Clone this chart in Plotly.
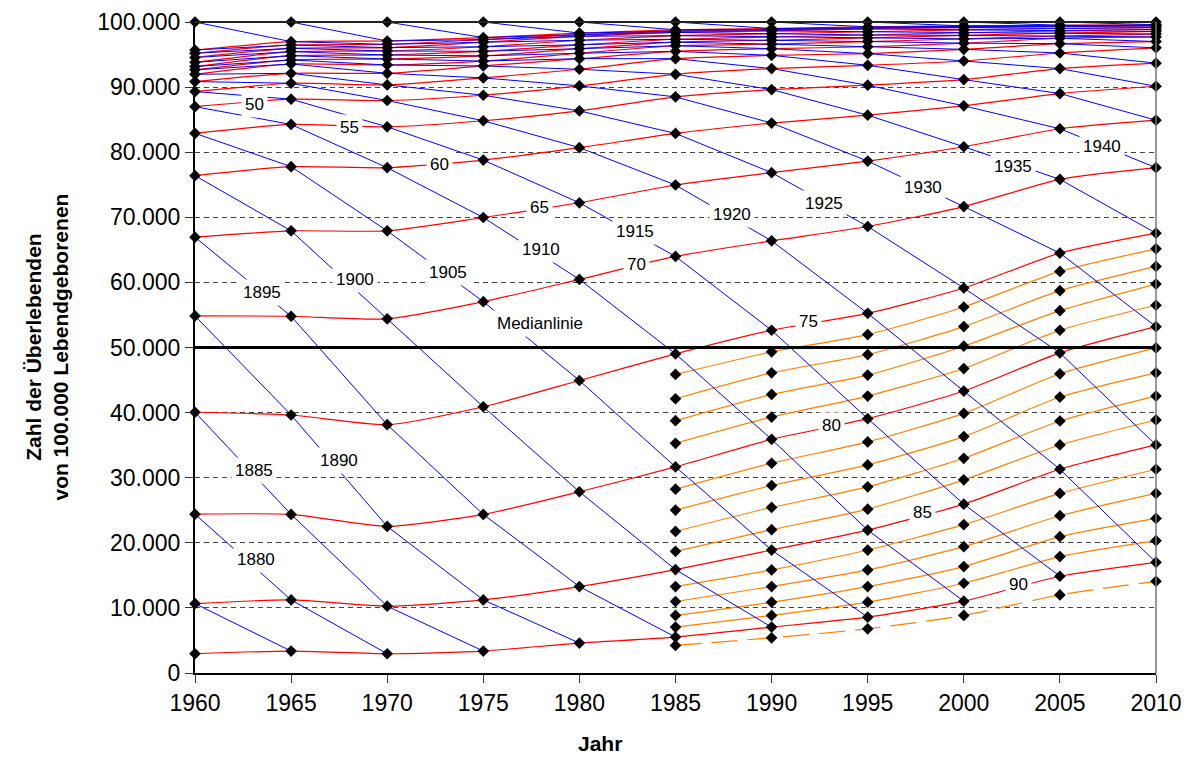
import plotly.graph_objects as go

# ---------------- data ----------------
years = [1960, 1965, 1970, 1975, 1980, 1985, 1990, 1995, 2000, 2005, 2010]

# survivors at exact age (5-year steps), per year
age_00 = [100000, 100000, 100000, 100000, 100000, 100000, 100000, 100000, 100000, 100000, 100000]
age_05 = [95700, 96980, 97080, 97600, 98300, 98800, 99000, 99250, 99400, 99500, 99580]
age_10 = [95200, 96470, 96570, 97300, 98050, 98600, 98850, 99100, 99300, 99420, 99500]
age_15 = [94550, 95960, 96060, 96900, 97800, 98400, 98650, 98950, 99150, 99300, 99400]
age_20 = [93800, 95450, 95550, 96200, 97200, 97900, 98200, 98500, 98800, 99000, 99150]
age_25 = [93150, 94830, 94930, 95500, 96500, 97350, 97700, 98000, 98350, 98650, 98850]
age_30 = [92650, 94170, 94320, 94800, 95900, 96900, 97200, 97550, 97950, 98300, 98550]
age_35 = [91970, 93550, 93400, 94000, 95200, 96350, 96600, 97000, 97400, 97850, 98150]
age_40 = [90850, 92120, 92120, 93250, 94370, 95490, 95900, 96200, 96750, 97500, 97700]
age_45 = [89320, 90590, 90340, 91410, 92740, 94370, 94880, 95140, 95800, 96670, 97000]
age_50 = [87000, 88140, 87940, 88750, 90190, 91970, 92840, 93350, 94010, 95240, 96030]
age_55 = [82900, 84260, 83900, 84830, 86350, 88500, 89620, 90290, 91150, 92840, 93680]
age_60 = [76400, 77780, 77620, 78790, 80700, 82880, 84480, 85690, 87120, 89010, 90130]
age_65 = [66950, 67920, 67920, 69970, 72230, 74960, 76860, 78640, 80840, 83600, 84920]
age_70 = [54850, 54800, 54400, 57040, 60460, 63990, 66380, 68590, 71650, 75830, 77620]
age_75 = [40050, 39630, 38150, 40900, 44930, 49020, 52650, 55250, 59140, 64500, 67560]
age_80 = [24400, 24360, 22520, 24360, 27840, 31660, 35890, 39070, 43310, 49180, 53200]
age_85 = [10650, 11230, 10260, 11230, 13280, 15880, 18890, 21950, 25940, 31300, 35030]
age_90 = [2960, 3370, 2960, 3370, 4600, 5520, 7050, 8580, 11030, 14860, 17000]

# single-year ages, available from 1985 on
single_years = [1985, 1990, 1995, 2000, 2005, 2010]
age_76 = [45860, 49330, 51980, 56220, 61690, 65160]
age_77 = [42130, 46110, 48920, 53210, 58730, 62460]
age_78 = [38760, 42790, 45760, 50200, 55660, 59750]
age_79 = [35280, 39320, 42540, 46770, 52650, 56490]
age_81 = [28240, 32220, 35500, 39880, 45960, 49940]
age_82 = [25020, 28800, 31970, 36310, 42390, 46110]
age_83 = [21750, 25430, 28600, 32980, 38710, 42540]
age_84 = [18690, 22010, 25170, 29670, 35030, 38870]
age_86 = [13280, 15830, 18890, 22780, 27580, 31300]
age_87 = [10980, 13280, 15830, 19410, 24160, 27580]
age_88 = [8840, 10880, 13280, 16350, 20940, 23750]
age_89 = [7050, 8840, 10880, 13790, 17880, 20330]
age_91 = [4240, 5410, 6790, 8840, 12000, 14090]

# labels
cohort_labels = ["1880", "1885", "1890", "1895", "1900", "1905", "1910",
                 "1915", "1920", "1925", "1930", "1935", "1940"]
cohort_label_x = [1963.17, 1963.07, 1967.48, 1963.47, 1968.32, 1973.15, 1978.0,
                  1982.9, 1987.96, 1992.73, 1997.86, 2002.58, 2007.17]
cohort_label_y = [17420, 31050, 32580, 58470, 60510, 61540, 65000,
                  67820, 70370, 72050, 74610, 77870, 80940]
age_labels = ["50", "55", "60", "65", "70", "75", "80", "85", "90"]
age_label_x = [1963.12, 1968.06, 1972.71, 1977.91, 1982.98, 1991.91, 1993.13, 1997.84, 2002.84]
age_label_y = [87370, 83750, 78130, 71500, 62810, 54030, 37950, 24670, 13590]
median_value = 50000
yticks = [0, 10000, 20000, 30000, 40000, 50000, 60000, 70000, 80000, 90000, 100000]
yticktext = ["0", "10.000", "20.000", "30.000", "40.000", "50.000",
             "60.000", "70.000", "80.000", "90.000", "100.000"]

# ---------------- build ----------------
five_ages = list(range(0, 95, 5))
five_lines = [age_00, age_05, age_10, age_15, age_20, age_25, age_30, age_35, age_40,
              age_45, age_50, age_55, age_60, age_65, age_70, age_75, age_80, age_85, age_90]
age_map = dict(zip(five_ages, five_lines))
single_lines = [age_76, age_77, age_78, age_79, age_81, age_82, age_83, age_84,
                age_86, age_87, age_88, age_89]

FONT = "Liberation Sans, Arial, sans-serif"
RED = "#FF0000"
BLUE = "#0000FF"
ORANGE = "#FF8000"

fig = go.Figure()

# age lines (red)
for vals in five_lines:
    fig.add_trace(go.Scatter(x=years, y=vals, mode="lines",
                             line=dict(color=RED, width=1.2, shape="spline", smoothing=0.6),
                             showlegend=False, cliponaxis=False))

# single ages (orange)
for vals in single_lines:
    fig.add_trace(go.Scatter(x=single_years, y=vals, mode="lines",
                             line=dict(color=ORANGE, width=1.2, shape="spline", smoothing=0.6),
                             showlegend=False, cliponaxis=False))
fig.add_trace(go.Scatter(x=single_years, y=age_91, mode="lines",
                         line=dict(color=ORANGE, width=1.2, dash="26px,10px",
                                   shape="spline", smoothing=0.6),
                         showlegend=False, cliponaxis=False))

# cohort (blue) lines
for c in range(1875, 2010, 5):
    xs, ys = [], []
    for i, yr in enumerate(years):
        a = yr - c
        if 0 <= a <= 90:
            xs.append(yr)
            ys.append(age_map[a][i])
    if len(xs) >= 2:
        fig.add_trace(go.Scatter(x=xs, y=ys, mode="lines",
                                 line=dict(color=BLUE, width=1),
                                 hoverinfo="skip", showlegend=False, cliponaxis=False))

# markers
mx, my = [], []
for vals in five_lines:
    mx += years
    my += vals
for vals in single_lines + [age_91]:
    mx += single_years
    my += vals
fig.add_trace(go.Scatter(x=mx, y=my, mode="markers",
                         marker=dict(symbol="diamond", size=9, color="black"),
                         showlegend=False, cliponaxis=False))

LABEL_FONT = dict(family=FONT, size=17, color="black")
annotations = []
for t, x, y in zip(cohort_labels, cohort_label_x, cohort_label_y):
    annotations.append(dict(x=x, y=y, text=t, showarrow=False, bgcolor="white",
                            borderpad=3, font=LABEL_FONT))
for t, x, y in zip(age_labels, age_label_x, age_label_y):
    annotations.append(dict(x=x, y=y, text=t, showarrow=False, bgcolor="white",
                            borderpad=3, font=LABEL_FONT))
annotations.append(dict(x=1977.95, y=53620, text="Medianlinie", showarrow=False,
                        bgcolor="white", borderpad=3, font=LABEL_FONT))
annotations.append(dict(xref="paper", yref="paper", x=-0.155, y=0.5,
                        xanchor="center", yanchor="middle",
                        text="<b>Zahl der Überlebenden<br>von 100.000 Lebendgeborenen</b>",
                        textangle=-90, showarrow=False,
                        font=dict(family=FONT, size=21, color="black")))
annotations.append(dict(xref="paper", yref="paper", x=0.4215, y=-0.108,
                        xanchor="center", yanchor="middle",
                        text="<b>Jahr</b>", showarrow=False,
                        font=dict(family=FONT, size=21, color="black")))

shapes = [
    dict(type="line", xref="paper", yref="y", x0=0, x1=1.004, y0=median_value, y1=median_value,
         line=dict(color="black", width=3)),
    dict(type="line", xref="paper", yref="paper", x0=0, x1=1, y0=1, y1=1,
         line=dict(color="#222222", width=2)),
    dict(type="line", xref="paper", yref="paper", x0=1, x1=1, y0=0, y1=1,
         line=dict(color="#777777", width=1.5)),
]

fig.update_layout(
    width=1192, height=764,
    margin=dict(l=187, r=44, t=14, b=99),
    paper_bgcolor="white", plot_bgcolor="white",
    font=dict(family=FONT, color="black"),
    annotations=annotations, shapes=shapes,
    showlegend=False,
)
fig.update_xaxes(range=[1960, 2010], tickvals=years, ticks="outside", ticklen=8,
                 tickcolor="#333333", showline=True, linecolor="black", linewidth=2,
                 showgrid=False, zeroline=False, automargin=False,
                 ticklabeloverflow="allow",
                 tickfont=dict(family=FONT, size=23, color="black"))
fig.update_yaxes(range=[0, 100000], tickvals=yticks, ticktext=yticktext,
                 ticks="outside", ticklen=8, tickcolor="#333333",
                 showline=True, linecolor="black", linewidth=2,
                 showgrid=True, gridcolor="#444444", gridwidth=1, griddash="5px,4px",
                 zeroline=False, ticklabelstandoff=0, automargin=False,
                 ticklabeloverflow="allow",
                 tickfont=dict(family=FONT, size=23, color="black"))

fig.write_html("out.html")
